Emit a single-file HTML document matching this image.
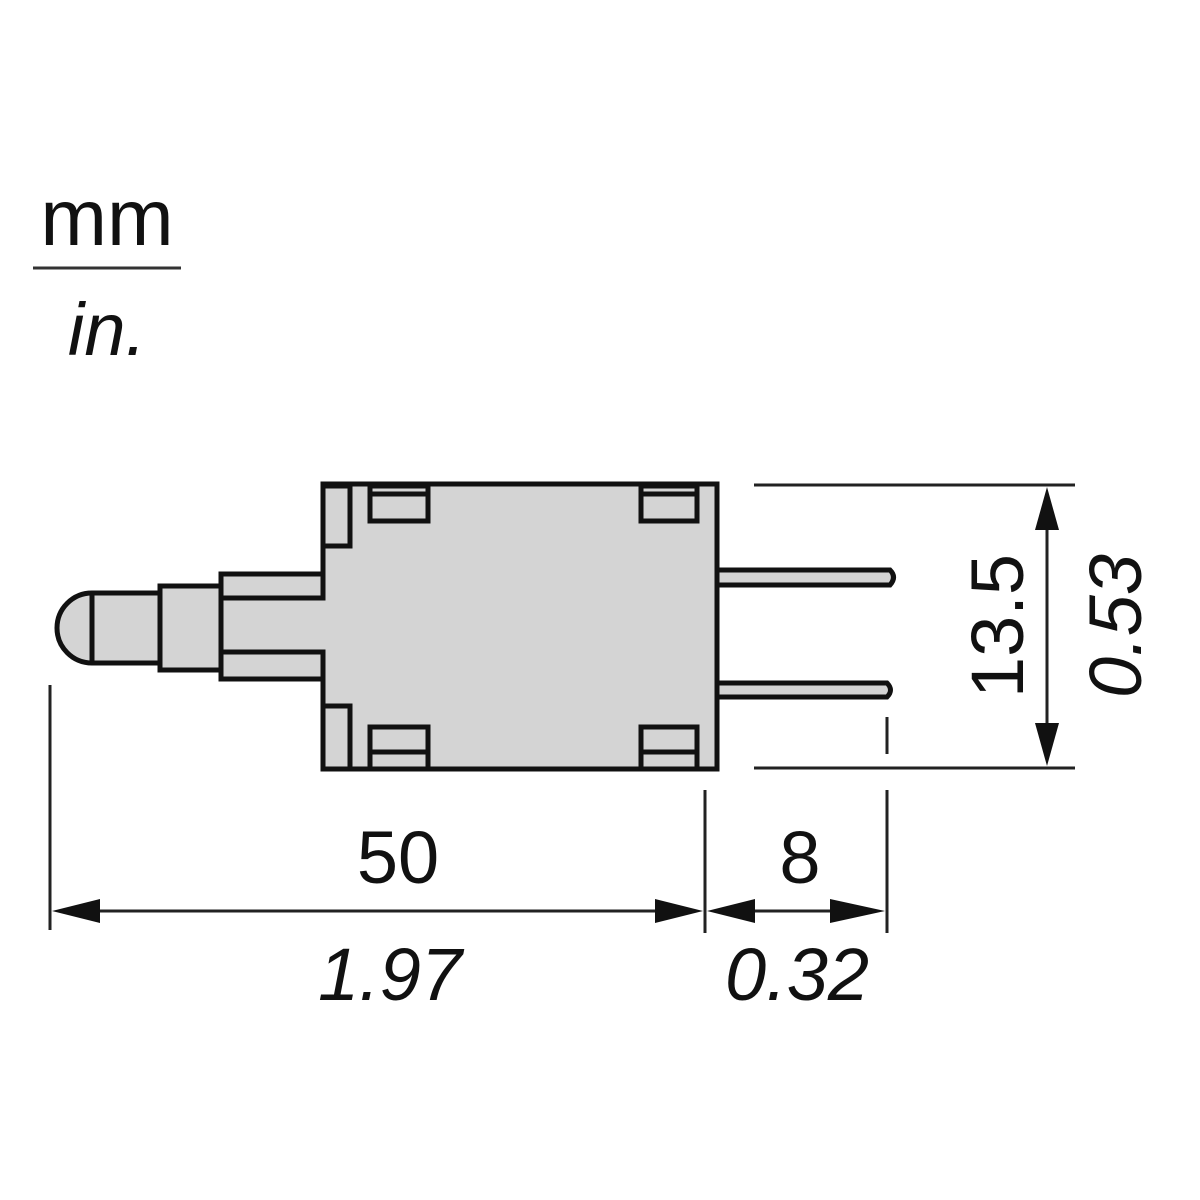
<!DOCTYPE html>
<html><head><style>html,body{margin:0;padding:0;background:#fff}svg{display:block}</style></head>
<body>
<svg width="1200" height="1200" viewBox="0 0 1200 1200" xmlns="http://www.w3.org/2000/svg">
<g font-family="Liberation Sans, sans-serif" fill="#111">
<text x="107" y="245" font-size="80" text-anchor="middle">mm</text>
<text x="107" y="355" font-size="74" font-style="italic" text-anchor="middle">in.</text>
</g>
<line x1="33" y1="268" x2="181" y2="268" stroke="#333" stroke-width="3"/>
<g stroke="#111" stroke-width="5" fill="#d4d4d4" stroke-linejoin="miter">
<path d="M92 593 L160 593 L160 663 L92 663 A35 35 0 0 1 92 593 Z"/>
<line x1="92" y1="593" x2="92" y2="663"/>
<rect x="160" y="586" width="61" height="84"/>
<path d="M323 484 L717 484 L717 769 L323 769 L323 652 L221 652 L221 598 L323 598 Z"/>
<rect x="221" y="574" width="102" height="24"/>
<rect x="221" y="652" width="102" height="27"/>
<rect x="323" y="486" width="27" height="60"/>
<rect x="323" y="706" width="27" height="63"/>
<rect x="370" y="486" width="58" height="35"/>
<rect x="641" y="486" width="56" height="35"/>
<rect x="370" y="727" width="58" height="42"/>
<rect x="641" y="727" width="56" height="42"/>
<line x1="370" y1="494" x2="428" y2="494"/>
<line x1="641" y1="494" x2="697" y2="494"/>
<line x1="370" y1="752" x2="428" y2="752"/>
<line x1="641" y1="752" x2="697" y2="752"/>
<path d="M717 570 L890 570 Q897 577 890 585 L717 585 Z"/>
<path d="M717 683 L887 683 Q894 690 887 697 L717 697 Z"/>
</g>
<g stroke="#222" stroke-width="3" fill="none">
<line x1="887" y1="717" x2="887" y2="754"/>
<line x1="754" y1="485" x2="1075" y2="485"/>
<line x1="754" y1="768" x2="1075" y2="768"/>
<line x1="1047" y1="525" x2="1047" y2="728"/>
<line x1="50" y1="685" x2="50" y2="930"/>
<line x1="705" y1="790" x2="705" y2="933"/>
<line x1="887" y1="790" x2="887" y2="933"/>
<line x1="90" y1="911" x2="665" y2="911"/>
<line x1="745" y1="911" x2="847" y2="911"/>
</g>
<g fill="#111">
<polygon points="1047,487 1035,530 1059,530"/>
<polygon points="1047,766 1035,723 1059,723"/>
<polygon points="52,911 100,899 100,923"/>
<polygon points="703,911 655,899 655,923"/>
<polygon points="707,911 755,899 755,923"/>
<polygon points="885,911 830,899 830,923"/>
</g>
<g font-family="Liberation Sans, sans-serif" fill="#111" font-size="74">
<text x="398" y="883" text-anchor="middle">50</text>
<text x="800" y="883" text-anchor="middle">8</text>
<text x="390" y="1000" text-anchor="middle" font-style="italic">1.97</text>
<text x="797" y="1000" text-anchor="middle" font-style="italic">0.32</text>
<text transform="translate(1023,626) rotate(-90)" text-anchor="middle">13.5</text>
<text transform="translate(1141,626) rotate(-90)" text-anchor="middle" font-style="italic">0.53</text>
</g>
</svg>
</body></html>
